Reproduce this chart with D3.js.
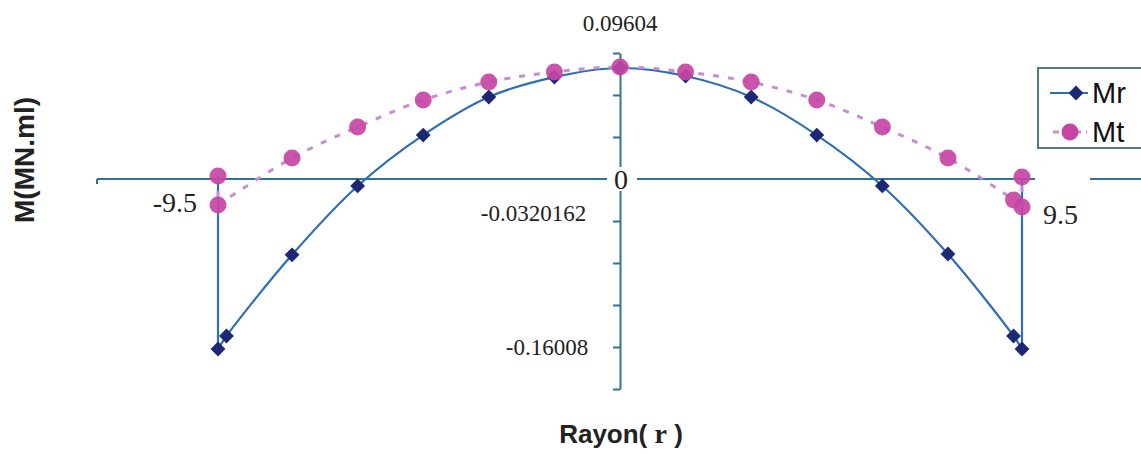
<!DOCTYPE html>
<html>
<head>
<meta charset="utf-8">
<script src="https://cdn.jsdelivr.net/npm/d3@7"></script>
<style>
	body { margin: 0; background: #fff; }
	svg { display: block; }
</style>
</head>
<body>
<div id="chart"></div>
<script>
// radius values and moments
var rMr = [-9.5, -9.5, -9.3, -7.75, -6.2, -4.65, -3.1, -1.55, 0, 1.55, 3.1, 4.65, 6.2, 7.75, 9.3, 9.5, 9.5]
var valMr = [0, -0.1296, -0.1197, -0.0578, -0.0053, 0.0335, 0.0625, 0.0777, 0.0846, 0.0785, 0.0625, 0.0335, -0.0053, -0.0572, -0.1197, -0.1296, 0]

var rMt = [-9.5, -9.5, -7.75, -6.2, -4.65, -3.1, -1.55, 0, 1.55, 3.1, 4.65, 6.2, 7.75, 9.3, 9.5, 9.5]
var valMt = [0.0023, -0.0198, 0.0160, 0.0396, 0.0602, 0.0739, 0.0816, 0.0854, 0.0816, 0.0739, 0.0602, 0.0396, 0.0160, -0.0160, -0.0213, 0.0015]

var yTicks = [-0.16008, -0.1280648, -0.0960486, -0.0640324, -0.0320162, 0, 0.0320162, 0.0640324, 0.0960486]

// data labels shown on the chart
var labels = [
	{ text: "0.09604", r: 0, v: 0.0960486 },
	{ text: "-0.0320162", r: -0.8, v: -0.0320162 },
	{ text: "-0.16008", r: -0.75, v: -0.1280648 }
]
var rLabels = [-9.5, 9.5]
var seriesNames = ["Mr", "Mt"]

;(() => run())()

function run() {
	var w = 1141
	var h = 454

	var axisColor = "#2f7497"
	var mrColor = "#2f6db4"
	var mrMarker = "#1c2874"
	var mtColor = "#c545a5"
	var mtLine = "#c88bd4"
	var serif = "'Liberation Serif', 'Times New Roman', serif"
	var sans = "'Liberation Sans', Arial, sans-serif"

	var x = d3.scaleLinear()
		.domain([-9.5, 9.5])
		.range([218, 1022])

	var y = d3.scaleLinear()
		.domain([-0.16008, 0.09604])
		.range([389, 53])

	var svg = d3.select("#chart")
		.append("svg")
		.attr("width", w)
		.attr("height", h)

	// horizontal axis (broken on the right, as in the original)
	svg.append("line")
		.attr("x1", 97).attr("x2", 1035)
		.attr("y1", y(0)).attr("y2", y(0))
		.attr("stroke", axisColor).attr("stroke-width", 2)
	svg.append("line")
		.attr("x1", 1090).attr("x2", w)
		.attr("y1", y(0)).attr("y2", y(0))
		.attr("stroke", axisColor).attr("stroke-width", 2)
	svg.append("line")
		.attr("x1", 97).attr("x2", 97)
		.attr("y1", y(0)).attr("y2", y(0) + 5)
		.attr("stroke", axisColor).attr("stroke-width", 2)

	// vertical axis
	var yAxis = d3.axisLeft(y)
		.tickValues(yTicks)
		.tickSize(7)
		.tickSizeOuter(0)
		.tickFormat("")

	var gy = svg.append("g")
		.attr("transform", "translate(" + x(0) + ",0)")
		.call(yAxis)
	gy.selectAll("path, line")
		.attr("stroke", axisColor)
		.attr("stroke-width", 2)

	// "0" at the origin, on a white patch
	svg.append("rect")
		.attr("x", x(0) - 13).attr("y", y(0) - 12)
		.attr("width", 30).attr("height", 24)
		.attr("fill", "#fff")
	svg.append("text")
		.attr("x", x(0) + 1)
		.attr("y", y(0) + 10)
		.attr("text-anchor", "middle")
		.style("font-family", serif)
		.style("font-size", "28px")
		.style("fill", "#222")
		.text("0")

	// lines: straight verticals at the edges, smooth curve in between
	var smooth = d3.line()
		.x(d => x(d[0]))
		.y(d => y(d[1]))
		.curve(d3.curveCatmullRom.alpha(0.5))
	var straight = d3.line()
		.x(d => x(d[0]))
		.y(d => y(d[1]))

	var mr = rMr.map((r, i) => [r, valMr[i]])
	var mt = rMt.map((r, i) => [r, valMt[i]])

	function drawSeries(pts, color, width, dash) {
		var n = pts.length
		var parts = [pts.slice(0, 2), pts.slice(1, n - 1), pts.slice(n - 2)]
		parts.forEach((p, i) => {
			svg.append("path")
				.datum(p)
				.attr("d", i == 1 ? smooth : straight)
				.attr("fill", "none")
				.attr("stroke", color)
				.attr("stroke-width", width)
				.attr("stroke-dasharray", dash)
		})
	}

	drawSeries(mr, mrColor, 2.2, null)
	drawSeries(mt, mtLine, 3, "6,9")

	var diamond = d3.symbol().type(d3.symbolDiamond2).size(140)

	svg.append("g")
		.selectAll("path")
		.data(mr.filter(d => d[1] != 0))
		.enter()
		.append("path")
		.attr("d", diamond)
		.attr("transform", d => "translate(" + x(d[0]) + "," + y(d[1]) + ")")
		.attr("fill", mrMarker)

	svg.append("g")
		.selectAll("circle")
		.data(mt)
		.enter()
		.append("circle")
		.attr("cx", d => x(d[0]))
		.attr("cy", d => y(d[1]))
		.attr("r", 8.5)
		.attr("fill", mtColor)
		.attr("opacity", 0.92)

	// value labels
	svg.append("text")
		.attr("x", x(labels[0].r))
		.attr("y", y(labels[0].v) - 22)
		.attr("text-anchor", "middle")
		.style("font-family", serif)
		.style("font-size", "23px")
		.style("fill", "#222")
		.text(labels[0].text)

	svg.append("text")
		.attr("x", x(labels[1].r))
		.attr("y", y(labels[1].v))
		.attr("text-anchor", "end")
		.style("font-family", serif)
		.style("font-size", "23px")
		.style("fill", "#222")
		.text(labels[1].text)

	svg.append("text")
		.attr("x", x(labels[2].r))
		.attr("y", y(labels[2].v) + 8)
		.attr("text-anchor", "end")
		.style("font-family", serif)
		.style("font-size", "23px")
		.style("fill", "#222")
		.text(labels[2].text)

	svg.append("text")
		.attr("x", x(rLabels[0]) - 21)
		.attr("y", y(0) + 33)
		.attr("text-anchor", "end")
		.style("font-family", serif)
		.style("font-size", "28px")
		.style("fill", "#222")
		.text(rLabels[0])

	svg.append("text")
		.attr("x", x(rLabels[1]) + 21)
		.attr("y", y(0) + 45)
		.style("font-family", serif)
		.style("font-size", "28px")
		.style("fill", "#222")
		.text(rLabels[1])

	// axis titles
	svg.append("text")
		.attr("transform", "translate(34,160) rotate(-90)")
		.attr("text-anchor", "middle")
		.style("font-family", sans)
		.style("font-weight", "bold")
		.style("font-size", "28px")
		.style("fill", "#222")
		.text("M(MN.ml)")

	var xt = svg.append("text")
		.attr("x", 621)
		.attr("y", 443)
		.attr("text-anchor", "middle")
		.style("font-family", sans)
		.style("font-weight", "bold")
		.style("font-size", "26px")
		.style("fill", "#222")
	xt.append("tspan").text("Rayon( ")
	xt.append("tspan").style("font-family", serif).style("font-size", "28px").text("r")
	xt.append("tspan").text(" )")

	// legend
	var lg = svg.append("g")
	lg.append("rect")
		.attr("x", 1038).attr("y", 68)
		.attr("width", 130).attr("height", 80)
		.attr("fill", "#fff")
		.attr("stroke", "#4d7d85")
		.attr("stroke-width", 2)

	lg.append("line")
		.attr("x1", 1050).attr("x2", 1088)
		.attr("y1", 93).attr("y2", 93)
		.attr("stroke", mrColor).attr("stroke-width", 2.2)
	lg.append("path")
		.attr("d", diamond)
		.attr("transform", "translate(1076,93)")
		.attr("fill", mrMarker)

	lg.append("line")
		.attr("x1", 1053).attr("x2", 1087)
		.attr("y1", 132).attr("y2", 132)
		.attr("stroke", mtLine).attr("stroke-width", 3)
		.attr("stroke-dasharray", "6,5")
	lg.append("circle")
		.attr("cx", 1070).attr("cy", 132).attr("r", 8.5)
		.attr("fill", mtColor)

	lg.selectAll("text")
		.data(seriesNames)
		.enter()
		.append("text")
		.attr("x", 1092)
		.attr("y", (d, i) => 103 + i * 39)
		.style("font-family", sans)
		.style("font-size", "29px")
		.style("fill", "#111")
		.text(d => d)
}
</script>
</body>
</html>
